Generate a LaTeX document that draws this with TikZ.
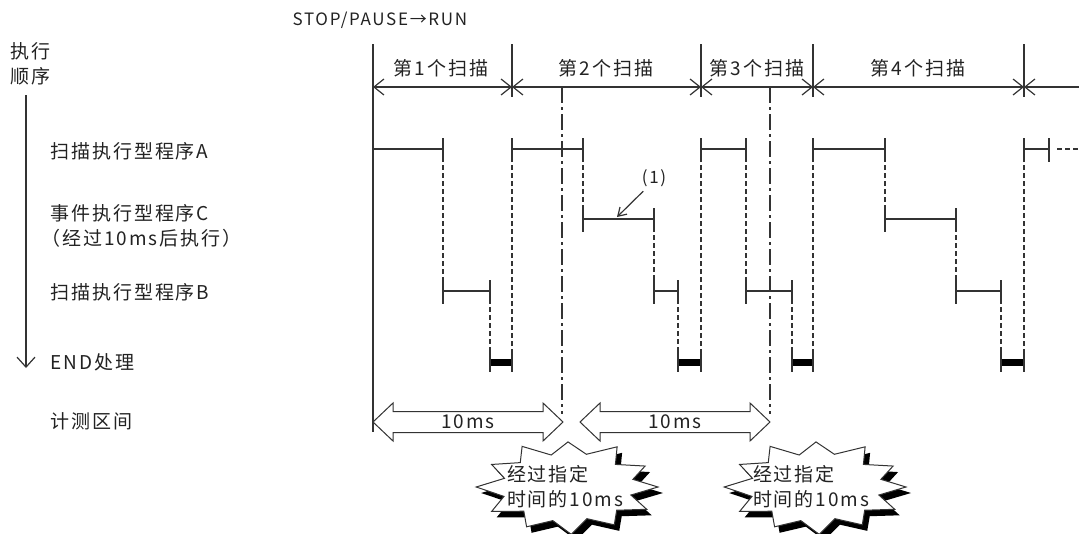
\documentclass[tikz,border=0pt]{standalone}
\usepackage{fontspec}
\setmainfont{Noto Sans CJK SC}[LetterSpace=10]
\usetikzlibrary{arrows.meta}
\definecolor{ink}{HTML}{333333}
\definecolor{txt}{HTML}{222222}
\newcommand\myblockarrow[4]{% x1, x2, y, name of the text node
  \draw[ink,fill=white,line width=1pt] (#1,#3) -- (#1+20,#3-19) -- (#1+20,#3-10.5) -- (#2-20,#3-10.5) -- (#2-20,#3-19) -- (#2,#3) -- (#2-20,#3+19) -- (#2-20,#3+10.5) -- (#1+20,#3+10.5) -- (#1+20,#3+19) -- cycle;
  \node[lbl,anchor=center] (#4) at ({(#1+#2)/2},#3) {10ms};}
\def\starlist{14/0.72, 29/1.0, 43/0.74, 58/0.97, 73/0.72, 88/1.03, 103/0.75, 118/0.98, 133/0.72, 148/1.0, 164/0.74, 180/1.02, 195/0.73, 210/0.98, 225/0.75, 240/1.02, 255/0.72, 270/0.98, 286/0.74, 302/1.03, 317/0.72, 332/0.97, 347/0.74}
\newcommand\mystar[2]{%
  \begin{scope}[shift={(#1,#2)}]
    \fill[black] (95,6) \foreach \a/\f in \starlist {-- ({5+\f*90*cos(\a)},{6+\f*46*sin(\a)})} -- cycle;
    \filldraw[fill=white,draw=ink,line width=1pt] (90,0) \foreach \a/\f in \starlist {-- ({\f*90*cos(\a)},{\f*46*sin(\a)})} -- cycle;
  \end{scope}}
\begin{document}
\begin{tikzpicture}[x=1pt,y=-1pt,line width=1.2pt,
  lbl/.style={anchor=west,inner sep=0pt,text=txt,font=\fontsize{19}{25}\selectfont},
  ln/.style={draw=ink},
  scanarr/.style={ink,{Straight Barb[length=10pt,width=16pt]}-{Straight Barb[length=10pt,width=16pt]}},
  dsh/.style={ink,dash pattern=on 5pt off 3pt},
  ddot/.style={ink,dash pattern=on 16pt off 4pt on 3pt off 4pt},
  endfill/.style={black,line width=7pt}]
\useasboundingbox (0,0) rectangle (1079,533);
% columns and rows
\foreach \n/\x in {0/373,1/443,2/490,3/512,4/583,5/654,6/678,7/701,8/746,9/792,10/813,11/885,12/956,13/1001,14/1024,15/1049,E/1079,t1/562,t2/770}
  \coordinate (c\n) at (\x,0);
\foreach \n/\y in {Top/44,Scan/87,Bot/97,A/149,C/219,B/291,E/362,Low/432,TEnd/414}
  \coordinate (r\n) at (0,\y);
% left texts
\node[lbl,anchor=north west,align=left] (order) at (10,42) {执行\\顺序};
\coordinate (eo1) at (26,95);
\coordinate (eo2) at (26,368);
\draw[ink,-{Straight Barb[length=10pt,width=18pt]}] (eo1) -- (eo2);
\node[lbl] (lA) at (50,151) {扫描执行型程序A};
\node[lbl] (lC) at (50,213) {事件执行型程序C};
\node[lbl] (lC2) at (41,238) {（经过10ms后执行）};
\node[lbl] (lB) at (50,292) {扫描执行型程序B};
\node[lbl] (lE) at (50,362) {END处理};
\node[lbl] (lM) at (50,421) {计测区间};
\node[lbl,font=\fontsize{17}{20}\selectfont] (trig) at (292,20) {STOP/PAUSE→RUN};
% scan labels
\node[lbl,anchor=center] (s1) at (441,68) {第1个扫描};
\node[lbl,anchor=center] (s2) at (606,68) {第2个扫描};
\node[lbl,anchor=center] (s3) at (757,68) {第3个扫描};
\node[lbl,anchor=center] (s4) at (918,68) {第4个扫描};
% boundary lines
\draw[ln] (c0|-rTop) -- (c0|-rLow);
\foreach \n in {3,7,10,14} \draw[ln] (c\n|-rTop) -- (c\n|-rBot);
% scan arrows
\draw[scanarr] (c0|-rScan) -- (c3|-rScan);
\draw[scanarr] (c3|-rScan) -- (c7|-rScan);
\draw[scanarr] (c7|-rScan) -- (c10|-rScan);
\draw[scanarr] (c10|-rScan) -- (c14|-rScan);
\draw[ink,{Straight Barb[length=10pt,width=16pt]}-] (c14|-rScan) -- (cE|-rScan);
% timer lines
\draw[ddot] (ct1|-rScan) -- (ct1|-rTEnd);
\draw[ddot] (ct2|-rScan) -- (ct2|-rTEnd);
% dashed transitions
\foreach \n/\ra/\rb in {1/A/B,2/B/E,3/E/A,4/A/C,5/C/B,6/B/E,7/E/A,8/A/B,9/B/E,10/E/A,11/A/C,12/C/B,13/B/E,14/E/A}
  \draw[dsh] (c\n|-r\ra) -- (c\n|-r\rb);
% program bars with end ticks
\draw[ink] (c0|-rA) -- (c1|-rA);
\draw[ink] ([yshift=11pt]c1|-rA) -- ([yshift=-13pt]c1|-rA);
\foreach \a/\b/\r in {3/4/A,7/8/A,10/11/A,14/15/A,4/5/C,11/12/C,1/2/B,5/6/B,8/9/B,12/13/B}{
  \draw[ink] (c\a|-r\r) -- (c\b|-r\r);
  \draw[ink] ([yshift=11pt]c\a|-r\r) -- ([yshift=-13pt]c\a|-r\r);
  \draw[ink] ([yshift=11pt]c\b|-r\r) -- ([yshift=-13pt]c\b|-r\r);
}
% END processing bars
\foreach \a/\b in {2/3,6/7,9/10,13/14}{
  \draw[endfill] (c\a|-rE) -- (c\b|-rE);
  \draw[ink] ([yshift=10pt]c\a|-rE) -- ([yshift=-10pt]c\a|-rE);
  \draw[ink] ([yshift=10pt]c\b|-rE) -- ([yshift=-10pt]c\b|-rE);
}
\coordinate (dstart) at (1057,149);
\draw[dsh] (dstart) -- (cE|-rA);
% (1) marker
\node[lbl,anchor=center,font=\fontsize{17}{20}\selectfont] (m1) at (654,178) {(1)};
\coordinate (m1tip) at (617,217);
\draw[ink,-{Straight Barb[length=8pt,width=10pt]}] ([shift={(2pt,-4pt)}]m1.south west) -- (m1tip);
% measuring arrows
\myblockarrow{373}{563}{422}{ms1}
\myblockarrow{580}{770}{422}{ms2}
% starbursts
\mystar{568}{487}
\node[lbl,anchor=center,align=left] (st1) at (565,487) {经过指定\\时间的10ms};
\mystar{816}{487}
\node[lbl,anchor=center,align=left] (st2) at (811,487) {经过指定\\时间的10ms};
\end{tikzpicture}
\end{document}
